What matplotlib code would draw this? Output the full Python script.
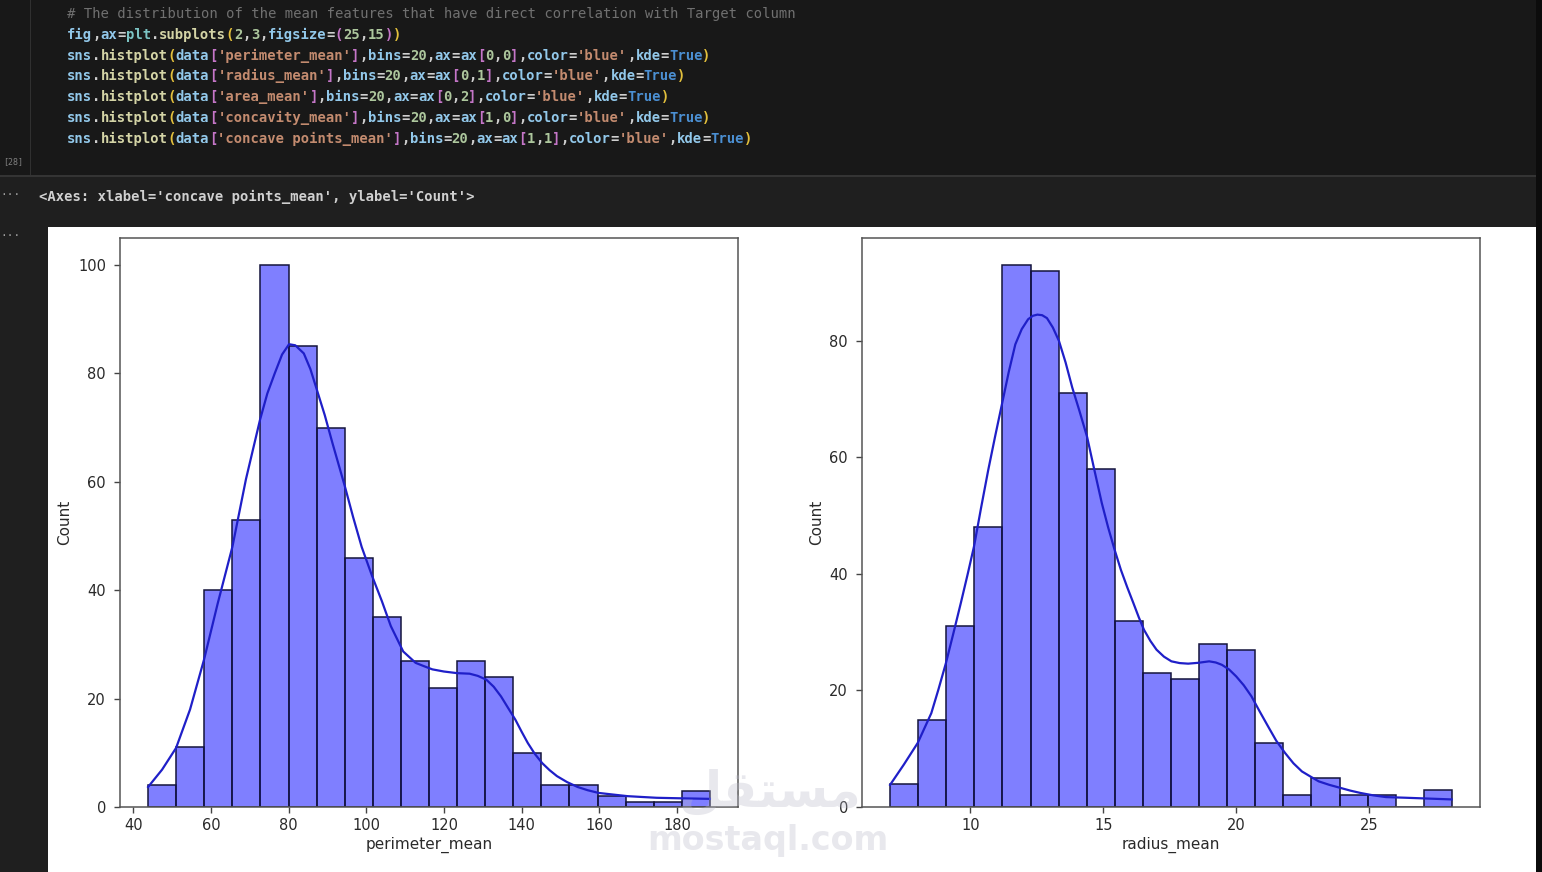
import re
import numpy as np
import matplotlib.pyplot as plt
from matplotlib.patches import Rectangle

# histogram counts (20 bins each, 569 rows)
perimeter_range = (43.79, 188.5)
perimeter_counts = [4, 11, 40, 53, 100, 85, 70, 46, 35, 27, 22, 27, 24, 10, 4, 4, 2, 1, 1, 3]
radius_range = (6.981, 28.11)
radius_counts = [4, 15, 31, 48, 93, 92, 71, 58, 32, 23, 22, 28, 27, 11, 2, 5, 2, 2, 0, 3]

# kde curves, points
perimeter_kde_x = [43.8, 47.4, 51.0, 54.6, 58.2, 61.7, 65.5, 69.0, 72.6, 74.5, 76.4, 78.3,
                   80.1, 81.7, 83.9, 85.6, 87.3, 89.3, 91.3, 94.5, 96.6, 98.8, 101.5, 104.0,
                   106.3, 109.5, 112.7, 114.8, 117.0, 120.0, 123.4, 126.6, 128.7, 130.9, 132.8,
                   134.7, 136.5, 138.4, 140.0, 141.6, 143.4, 145.3, 147.2, 149.1, 151.7, 154.4,
                   157.0, 159.8, 163.5, 167.3, 171.0, 174.8, 178.0, 181.2, 185.0, 188.5]
perimeter_kde_y = [3.7, 6.9, 10.9, 18.0, 27.2, 37.5, 48.0, 60.5, 71.4, 76.3, 80.0, 83.5,
                   85.4, 85.2, 83.7, 80.8, 76.9, 72.3, 67.1, 59.1, 53.5, 48.0, 42.6, 38.0,
                   33.4, 28.7, 26.6, 26.0, 25.4, 25.0, 24.7, 24.6, 24.2, 23.5, 22.2,
                   20.4, 18.3, 16.1, 13.9, 11.8, 9.8, 8.1, 6.8, 5.7, 4.6, 3.7,
                   3.1, 2.6, 2.3, 2.0, 1.85, 1.7, 1.65, 1.6, 1.55, 1.5]
radius_kde_x = [6.98, 7.5, 8.02, 8.53, 8.8, 9.08, 9.36, 9.64, 9.9, 10.14, 10.4, 10.67, 10.93,
                11.19, 11.44, 11.69, 11.93, 12.17, 12.35, 12.52, 12.7, 12.88, 13.1, 13.33,
                13.58, 13.83, 14.1, 14.39, 14.66, 14.94, 15.18, 15.42, 15.66, 15.9, 16.13,
                16.33, 16.53, 16.77, 17.0, 17.28, 17.56, 17.87, 18.19, 18.58, 18.98, 19.23,
                19.46, 19.73, 20.0, 20.28, 20.57, 20.88, 21.2, 21.5, 21.83, 22.15, 22.47,
                22.8, 23.1, 23.5, 23.9, 24.3, 24.68, 25.15, 25.63, 26.3, 26.9, 27.5, 28.1]
radius_kde_y = [3.8, 7.3, 11.0, 16.1, 20.2, 24.7, 29.8, 35.0, 40.0, 44.8, 51.3, 57.8, 63.6,
                69.2, 74.6, 79.4, 82.0, 83.7, 84.3, 84.5, 84.4, 83.9, 82.3, 80.0,
                76.3, 72.0, 68.0, 63.5, 57.9, 52.2, 48.0, 44.2, 40.7, 37.7, 35.0,
                32.6, 30.4, 28.5, 27.0, 25.8, 25.0, 24.7, 24.6, 24.75, 25.0, 24.8,
                24.4, 23.6, 22.4, 20.9, 19.0, 16.4, 13.8, 11.4, 9.3, 7.5, 6.1,
                5.2, 4.4, 3.8, 3.3, 2.8, 2.4, 2.0, 1.7, 1.6, 1.5, 1.4, 1.3]

code_lines = [
    "# The distribution of the mean features that have direct correlation with Target column",
    "fig,ax=plt.subplots(2,3,figsize=(25,15))",
    "sns.histplot(data['perimeter_mean'],bins=20,ax=ax[0,0],color='blue',kde=True)",
    "sns.histplot(data['radius_mean'],bins=20,ax=ax[0,1],color='blue',kde=True)",
    "sns.histplot(data['area_mean'],bins=20,ax=ax[0,2],color='blue',kde=True)",
    "sns.histplot(data['concavity_mean'],bins=20,ax=ax[1,0],color='blue',kde=True)",
    "sns.histplot(data['concave points_mean'],bins=20,ax=ax[1,1],color='blue',kde=True)",
]
out_text = "<Axes: xlabel='concave points_mean', ylabel='Count'>"

W, H = 1542, 872
fig = plt.figure(figsize=(W / 100, H / 100), dpi=100)
fig.patch.set_facecolor('#1f1f1f')


def box(x0, y0, x1, y1, c):
    fig.add_artist(Rectangle((x0 / W, 1 - y1 / H), (x1 - x0) / W, (y1 - y0) / H,
                             transform=fig.transFigure, facecolor=c, edgecolor='none',
                             zorder=-10))


box(0, 0, 1536, 176, '#181818')
box(30, 0, 31, 176, '#303030')
box(0, 175, 1536, 177, '#343434')
box(1536, 0, W, H, '#0c0c0c')
box(48, 227, 1536, H, 'white')

# code cell, coloured like the vscode dark theme
cw = 8.36
mono = 'DejaVu Sans Mono'
colors = {'var': '#92c8ea', 'func': '#d4d4a6', 'str': '#c38b6f', 'num': '#adc79d',
          'kw': '#4b8fd2', 'punct': '#cfcfcf', 'paren': '#e3c03c', 'sq': '#c576c8',
          'sq2': '#3996e0', 'cls': '#7cc4c4'}


def tokens(line):
    if line.startswith('#'):
        return [(line, '#707070')]
    out = []
    depth = 0
    for m in re.finditer(r"'[^']*'|\d+|True|[A-Za-z_]+|.", line):
        t = m.group()
        if t.startswith("'"):
            c = colors['str']
        elif t.isdigit():
            c = colors['num']
        elif t == 'True':
            c = colors['kw']
        elif t in ('histplot', 'subplots'):
            c = colors['func']
        elif t == 'plt':
            c = colors['cls']
        elif t[0].isalpha() or t[0] == '_':
            c = colors['var']
        elif t in '([':
            c = [colors['paren'], colors['sq'], colors['sq2']][depth % 3]
            depth += 1
        elif t in ')]':
            depth -= 1
            c = [colors['paren'], colors['sq'], colors['sq2']][depth % 3]
        else:
            c = colors['punct']
        out.append((t, c))
    return out


for i, line in enumerate(code_lines):
    col = 0
    y = 14 + i * 20.8
    for t, c in tokens(line):
        fig.text((67 + col * cw) / W, 1 - y / H, t, color=c, family=mono,
                 fontsize=10, va='center', ha='left',
                 fontweight='semibold' if c != '#707070' else 'normal')
        col += len(t)

fig.text(3 / W, 1 - 162 / H, '[28]', color='#808080', family=mono, fontsize=6, va='center')
fig.text(0 / W, 1 - 195 / H, '···', color='#a0a0a0', family=mono, fontsize=8, va='center')
fig.text(0 / W, 1 - 236 / H, '···', color='#a0a0a0', family=mono, fontsize=8, va='center')
fig.text(39 / W, 1 - 197 / H, out_text, color='#d0d0d0', family=mono, fontsize=10,
         va='center', fontweight='semibold')


def hist_panel(rect, rng, counts, kx, ky, xlabel, xticks, yticks):
    x0, y0, x1, y1 = rect
    ax = fig.add_axes([x0 / W, 1 - y1 / H, (x1 - x0) / W, (y1 - y0) / H])
    edges = np.linspace(rng[0], rng[1], len(counts) + 1)
    ax.bar(edges[:-1], counts, width=np.diff(edges), align='edge',
           facecolor=(0, 0, 1, 0.5), edgecolor='#14143c', linewidth=1.1)
    ax.plot(kx, ky, color='#1f1fc8', lw=1.6, solid_joinstyle='round')
    ax.set_xticks(xticks)
    ax.set_yticks(yticks)
    ax.tick_params(length=4, width=1, color='#444444', labelsize=10.5, labelcolor='#2a2a2a')
    ax.tick_params(axis='x', pad=4)
    ax.tick_params(axis='y', pad=6)
    for s in ax.spines.values():
        s.set_color('#555555')
        s.set_linewidth(1.1)
    ax.set_xlabel(xlabel, fontsize=11, color='#2a2a2a', labelpad=3)
    ax.set_ylabel('Count', fontsize=11, color='#2a2a2a', labelpad=4)
    return ax


hist_panel((120, 238, 738, 807), perimeter_range, perimeter_counts, perimeter_kde_x,
           perimeter_kde_y, 'perimeter_mean', [40, 60, 80, 100, 120, 140, 160, 180],
           [0, 20, 40, 60, 80, 100])
hist_panel((862, 238, 1480, 807), radius_range, radius_counts, radius_kde_x,
           radius_kde_y, 'radius_mean', [10, 15, 20, 25], [0, 20, 40, 60, 80])

# faint site watermark
fig.text(770 / W, 1 - 793 / H, '\ufede\ufed8\ufe98\ufeb4\ufee3', color=(0.72, 0.72, 0.78, 0.32),
         fontsize=36, fontweight='bold', ha='center', va='center')
fig.text(768 / W, 1 - 840 / H, 'mostaql.com', color=(0.72, 0.72, 0.78, 0.32),
         fontsize=24, fontweight='bold', ha='center', va='center')

fig.savefig('out.png', dpi=100, facecolor=fig.get_facecolor())
